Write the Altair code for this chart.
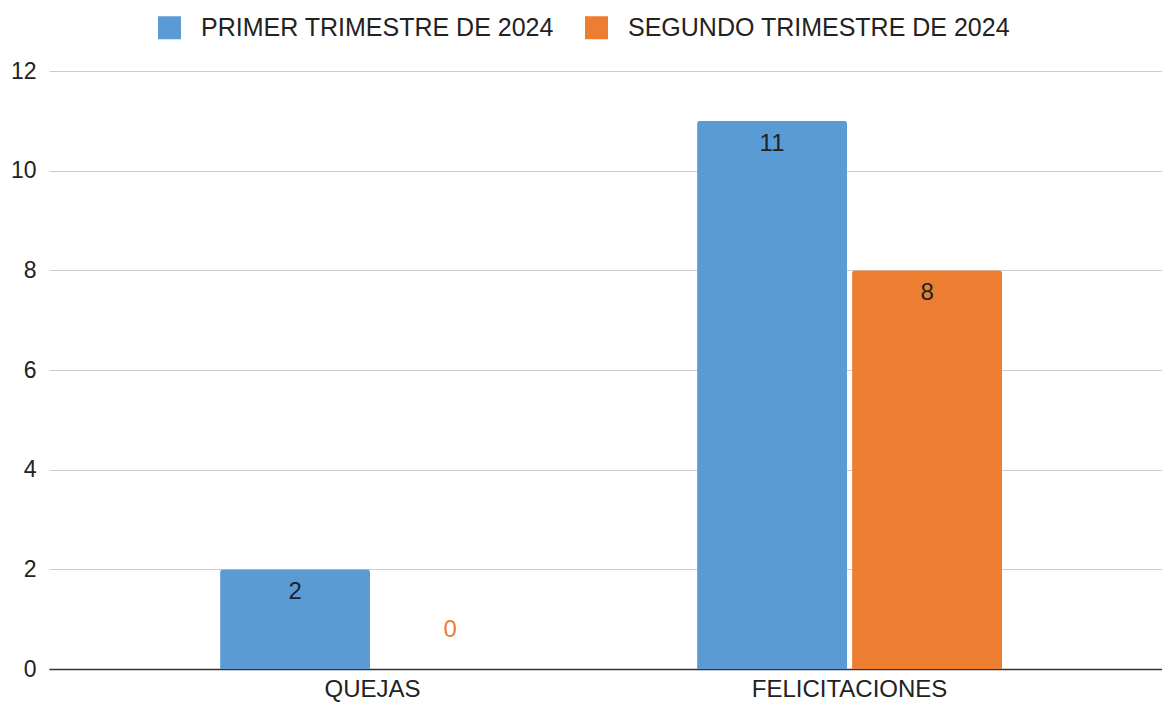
import altair as alt
import pandas as pd

categories = ["QUEJAS", "FELICITACIONES"]
series = ["PRIMER TRIMESTRE DE 2024", "SEGUNDO TRIMESTRE DE 2024"]
primer = [2, 11]
segundo = [0, 8]
colors = ["#5B9BD5", "#ED7D31"]
y_ticks = [0, 2, 4, 6, 8, 10, 12]

rows = []
for i, c in enumerate(categories):
    rows.append({"categoria": c, "serie": series[0], "valor": primer[i]})
    rows.append({"categoria": c, "serie": series[1], "valor": segundo[i]})
df = pd.DataFrame(rows)

FONT = "Liberation Sans"

x_enc = alt.X(
    "categoria:N",
    sort=categories,
    scale=alt.Scale(paddingInner=0, paddingOuter=0.1667, align=0.535),
    axis=alt.Axis(title=None, labelAngle=0, ticks=False, labelPadding=8,
                  labelFontSize=24, labelColor="#222222", labelLimit=600,
                  domainColor="#333333", domainWidth=1.5, grid=False),
)
xoff_enc = alt.XOffset("serie:N", sort=series,
                       scale=alt.Scale(paddingInner=0.0323, paddingOuter=0.5548))
y_enc = alt.Y(
    "valor:Q",
    scale=alt.Scale(domain=[0, 12], nice=False),
    axis=alt.Axis(title=None, values=y_ticks, ticks=False, domain=False,
                  labelPadding=13, labelFontSize=23, labelColor="#222222",
                  gridColor="#cccccc", gridWidth=1),
)
color_scale = alt.Scale(domain=series, range=colors)

base = alt.Chart(df).encode(x=x_enc, xOffset=xoff_enc, y=y_enc)

bars = base.mark_bar(cornerRadiusTopLeft=3, cornerRadiusTopRight=3).encode(
    color=alt.Color(
        "serie:N", sort=series, scale=color_scale,
        legend=alt.Legend(
            title=None, orient="none", direction="horizontal",
            legendX=108, legendY=-56, symbolType="square", symbolSize=529,
            symbolStrokeWidth=0, labelFontSize=25, labelColor="#222222",
            labelOffset=19, columnPadding=30, labelLimit=600,
        ),
    )
)

labels_in = base.transform_filter("datum.valor > 0").mark_text(
    dy=23, fontSize=24, color="#222222", baseline="middle"
).encode(text="valor:Q")

labels_zero = base.transform_filter("datum.valor == 0").mark_text(
    dy=-39, fontSize=24, baseline="middle"
).encode(text="valor:Q",
         color=alt.Color("serie:N", sort=series, scale=color_scale, legend=None))

chart = (
    alt.layer(bars, labels_in, labels_zero)
    .properties(
        width=1113, height=598,
        autosize=alt.AutoSizeParams(type="none"),
        padding={"left": 41, "top": 63, "right": 0, "bottom": 35},
        background="white",
    )
    .configure(font=FONT)
    .configure_view(stroke=None)
)

chart.save("out.html", embed_options={"renderer": "svg", "actions": False})
